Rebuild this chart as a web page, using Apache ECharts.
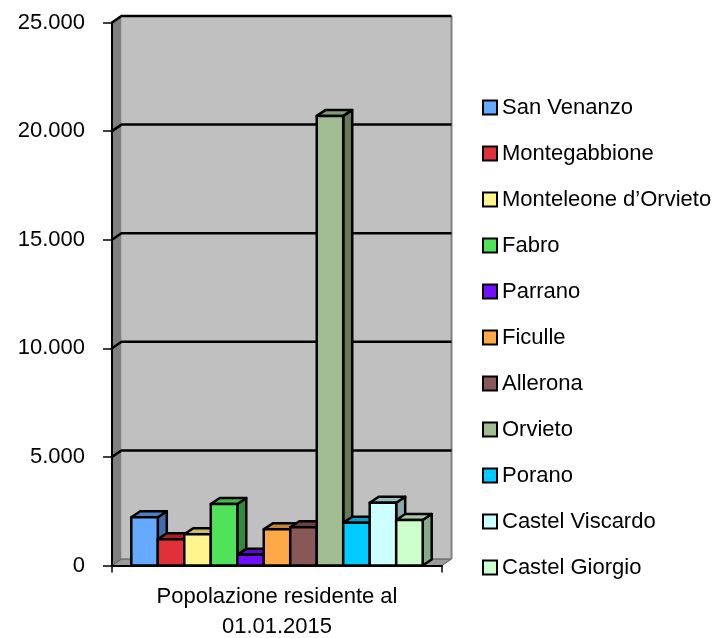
<!DOCTYPE html>
<html><head><meta charset="utf-8">
<script src="https://cdn.jsdelivr.net/npm/echarts@6/dist/echarts.min.js"></script>
<style>html,body{margin:0;padding:0;background:#fff}#c{width:712px;height:638px}</style>
</head><body><div id="c"></div>
<script>
const categories = ['Popolazione residente al\n01.01.2015'];
const municipalities = ['San Venanzo','Montegabbione','Monteleone d’Orvieto','Fabro','Parrano','Ficulle','Allerona','Orvieto','Porano','Castel Viscardo','Castel Giorgio'];
const population = [2220, 1205, 1435, 2830, 490, 1665, 1760, 20700, 1970, 2890, 2095];
const yTicks = [0, 5000, 10000, 15000, 20000, 25000];

const frontColors = ['#66AAFF','#E0303A','#FFF58C','#50E35A','#7010FF','#FFA848','#885858','#A0BC90','#00CCFF','#CCFFFF','#CCFFCC'];
const topColors   = ['#4F7FC0','#A8202A','#C8BE6E','#44B84A','#5A0CCC','#C88234','#6A4040','#819C73','#00A2CC','#99BBBB','#A3CCA3'];
const sideColors  = ['#3D6DAD','#8E1C24','#ADA45E','#2E8E36','#4A0AAA','#A86C2A','#583434','#667A5A','#0088AA','#88AAAA','#88AA88'];

const FONT = "'Liberation Sans', Arial, sans-serif";
const FS = 22;
const N = municipalities.length;
const GAP = 0.117;
const DX = 9, DY = -6;
const WX = 9.5, WY = -6.5;

function fmt(v){ return String(v).replace(/\B(?=(\d{3})+(?!\d))/g, '.'); }

function barRenderer(i){
  return function(params, api){
    const base = api.coord([api.value(0), 0]);
    const top = api.coord([api.value(0), api.value(1)]);
    const band = api.size([1, 0])[0];
    const w = band * (1 - GAP) / N;
    const l = base[0] - band / 2 + band * GAP / 2 + w * i;
    const r = l + w;
    const yt = top[1], yb = base[1];
    const st = {stroke:'#000', lineWidth:2.5, lineJoin:'round'};
    return {type:'group', children:[
      {type:'polygon', shape:{points:[[r,yb],[r+DX,yb+DY],[r+DX,yt+DY],[r,yt]]}, style:Object.assign({fill:sideColors[i]}, st)},
      {type:'polygon', shape:{points:[[l,yt],[l+DX,yt+DY],[r+DX,yt+DY],[r,yt]]}, style:Object.assign({fill:topColors[i]}, st)},
      {type:'rect', shape:{x:l, y:yt, width:w, height:yb-yt}, style:Object.assign({fill:frontColors[i]}, st)}
    ]};
  };
}

function wallRenderer(params, api){
  const cs = params.coordSys;
  const gx = cs.x, gy = cs.y, gr = cs.x + cs.width, gb = cs.y + cs.height;
  const ch = [];
  ch.push({type:'rect', shape:{x:gx+WX, y:gy+WY, width:cs.width, height:cs.height}, style:{fill:'#C0C0C0'}});
  ch.push({type:'polygon', shape:{points:[[gx,gy],[gx+WX,gy+WY],[gx+WX,gb+WY],[gx,gb]]}, style:{fill:'#808080'}});
  ch.push({type:'polygon', shape:{points:[[gx,gb],[gx+WX,gb+WY],[gr+WX,gb+WY],[gr,gb]]}, style:{fill:'#9A9A9A', stroke:'#555', lineWidth:1}});
  ch.push({type:'line', shape:{x1:gr+WX, y1:gy+WY, x2:gr+WX, y2:gb+WY}, style:{stroke:'#808080', lineWidth:2}});
  yTicks.forEach(function(v){
    if (v === 0) return;
    const y = api.coord([0, v])[1];
    ch.push({type:'polyline', shape:{points:[[gx,y],[gx+WX,y+WY],[gr+WX,y+WY]]}, style:{stroke:'#000', lineWidth:2.5, fill:null}});
  });
  return {type:'group', children:ch};
}

const series = [{
  type:'custom', name:'__wall', z:1, silent:true, clip:false,
  renderItem: wallRenderer, data:[[0,0]]
}];
municipalities.forEach(function(name, i){
  series.push({
    type:'custom', name:name, z:2, clip:false, silent:true,
    itemStyle:{color:frontColors[i]},
    renderItem: barRenderer(i),
    data:[[0, population[i]]]
  });
});

const chart = echarts.init(document.getElementById('c'), null, {renderer:'canvas'});
chart.setOption({
  animation:false,
  backgroundColor:'#fff',
  grid:{left:112, top:22.5, width:330, height:543, outerBoundsMode:'none', containLabel:false},
  legend:{
    orient:'vertical', left:482, top:96.5, padding:0, itemWidth:14, itemHeight:14, itemGap:24,
    icon:'rect', data:municipalities, selectedMode:false,
    itemStyle:{borderColor:'#000', borderWidth:2},
    textStyle:{fontSize:FS, lineHeight:22, color:'#000', fontFamily:FONT}
  },
  xAxis:{
    type:'category', data:categories, boundaryGap:true, z:5,
    axisLine:{show:true, lineStyle:{color:'#000', width:2}},
    axisTick:{show:true, length:7, lineStyle:{color:'#000', width:1.5}},
    axisLabel:{fontSize:FS, lineHeight:30, color:'#000', margin:16, fontFamily:FONT},
    splitLine:{show:false}
  },
  yAxis:{
    type:'value', min:0, max:25000, interval:5000, z:5,
    axisLine:{show:true, lineStyle:{color:'#000', width:2}},
    axisTick:{show:true, length:9, lineStyle:{color:'#000', width:1.5}},
    axisLabel:{fontSize:FS, color:'#000', margin:27, fontFamily:FONT, formatter:fmt},
    splitLine:{show:false}
  },
  series:series
});
</script></body></html>
